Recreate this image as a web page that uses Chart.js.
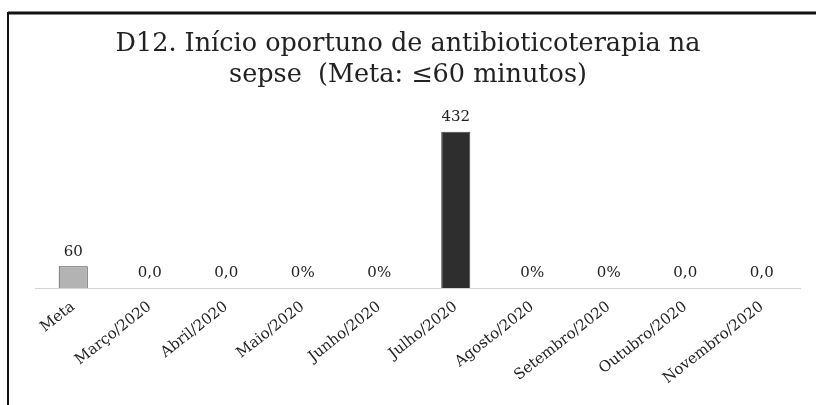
<!DOCTYPE html>
<html>
<head>
<meta charset="utf-8">
<script src="https://cdn.jsdelivr.net/npm/chart.js@4"></script>
<style>
  html, body { margin: 0; padding: 0; background: #fff; }
  #wrap { width: 816px; height: 405px; }
</style>
</head>
<body>
<div id="wrap"><canvas id="d12chart" width="816" height="405"></canvas></div>
<script>
// dados
const categorias = ['Meta', 'Março/2020', 'Abril/2020', 'Maio/2020', 'Junho/2020', 'Julho/2020',
    'Agosto/2020', 'Setembro/2020', 'Outubro/2020', 'Novembro/2020'];
const minutos = [60, 0, 0, 0, 0, 432, 0, 0, 0, 0];
const rotulos = ['60', '0,0', '0,0', '0%', '0%', '432', '0%', '0%', '0,0', '0,0'];
const cores = ['#b3b3b3', '#2e2e2e', '#2e2e2e', '#2e2e2e', '#2e2e2e', '#2e2e2e', '#2e2e2e', '#2e2e2e', '#2e2e2e', '#2e2e2e'];

const serif = "'DejaVu Serif', 'Liberation Serif', serif";

// moldura e rótulos dos valores
const moldura = {
    id: 'moldura',
    afterDraw(chart) {
        const ctx = chart.ctx;
        ctx.save();
        ctx.strokeStyle = '#111';
        ctx.lineWidth = 3;
        ctx.beginPath();
        ctx.moveTo(8, 13);
        ctx.lineTo(816, 13);
        ctx.stroke();
        ctx.lineWidth = 2;
        ctx.beginPath();
        ctx.moveTo(8, 12);
        ctx.lineTo(8, 405);
        ctx.stroke();

        // valores acima das barras
        const meta = chart.getDatasetMeta(0);
        ctx.fillStyle = '#222';
        ctx.font = '15px ' + serif;
        ctx.textAlign = 'center';
        ctx.textBaseline = 'bottom';
        meta.data.forEach((bar, i) => {
            ctx.fillText(rotulos[i], bar.x, bar.y - 7);
        });
        ctx.restore();
    }
};

const ctx = document.getElementById('d12chart').getContext('2d');
new Chart(ctx, {
    type: 'bar',
    data: {
        labels: categorias,
        datasets: [{
            label: 'D12',
            data: minutos,
            backgroundColor: cores,
            borderColor: '#444',
            borderWidth: 1,
            barPercentage: 0.38,
            categoryPercentage: 1
        }]
    },
    options: {
        responsive: false,
        animation: false,
        layout: { padding: { left: 16, right: 16, top: 0, bottom: 0 } },
        plugins: {
            legend: { display: false },
            tooltip: { enabled: false },
            title: {
                display: true,
                text: ['D12. Início oportuno de antibioticoterapia na', 'sepse  (Meta: ≤60 minutos)'],
                color: '#222',
                font: { family: serif, size: 25.5, weight: 'normal', lineHeight: 1.2 },
                padding: { top: 29, bottom: 17 }
            }
        },
        scales: {
            x: {
                grid: { display: false },
                border: { color: '#d4d4d4', dash: [1, 5] },
                ticks: {
                    color: '#222',
                    font: { family: serif, size: 15 },
                    minRotation: 38,
                    maxRotation: 38,
                    padding: 2
                },
                afterFit: scale => { scale.height = 117; }
            },
            y: {
                display: true,
                beginAtZero: true,
                max: 500,
                grid: { display: false },
                border: { display: false },
                ticks: { display: false },
                afterFit: scale => { scale.width = 19; }
            }
        }
    },
    plugins: [moldura]
});
</script>
</body>
</html>
